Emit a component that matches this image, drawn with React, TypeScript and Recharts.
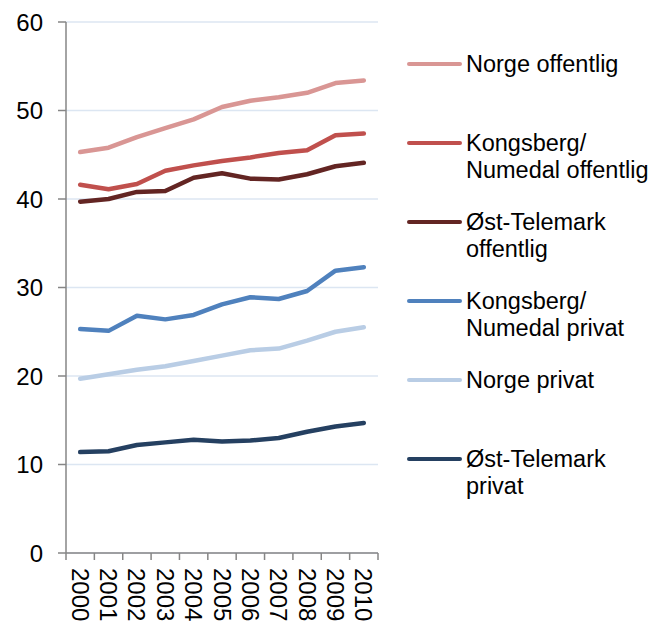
import { LineChart, Line, XAxis, YAxis, CartesianGrid } from 'recharts';

const years: string[] = ['2000', '2001', '2002', '2003', '2004', '2005', '2006', '2007', '2008', '2009', '2010'];

const norgeOffentlig: number[] = [45.3, 45.8, 47.0, 48.0, 49.0, 50.4, 51.1, 51.5, 52.0, 53.1, 53.4];
const kongsbergOffentlig: number[] = [41.6, 41.1, 41.7, 43.2, 43.8, 44.3, 44.7, 45.2, 45.5, 47.2, 47.4];
const ostTelemarkOffentlig: number[] = [39.7, 40.0, 40.8, 40.9, 42.4, 42.9, 42.3, 42.2, 42.8, 43.7, 44.1];
const kongsbergPrivat: number[] = [25.3, 25.1, 26.8, 26.4, 26.9, 28.1, 28.9, 28.7, 29.6, 31.9, 32.3];
const norgePrivat: number[] = [19.7, 20.2, 20.7, 21.1, 21.7, 22.3, 22.9, 23.1, 24.0, 25.0, 25.5];
const ostTelemarkPrivat: number[] = [11.4, 11.5, 12.2, 12.5, 12.8, 12.6, 12.7, 13.0, 13.7, 14.3, 14.7];

const yTicks: number[] = [0, 10, 20, 30, 40, 50, 60];

const series = [
  { key: 'norgeOff', name: ['Norge offentlig'], color: '#D99694', values: norgeOffentlig },
  { key: 'kongOff', name: ['Kongsberg/', 'Numedal offentlig'], color: '#C0504D', values: kongsbergOffentlig },
  { key: 'ostOff', name: ['Øst-Telemark', 'offentlig'], color: '#632523', values: ostTelemarkOffentlig },
  { key: 'kongPriv', name: ['Kongsberg/', 'Numedal privat'], color: '#4F81BD', values: kongsbergPrivat },
  { key: 'norgePriv', name: ['Norge privat'], color: '#B9CDE5', values: norgePrivat },
  { key: 'ostPriv', name: ['Øst-Telemark', 'privat'], color: '#254061', values: ostTelemarkPrivat },
];

const data = years.map((year, i) => {
  const row: Record<string, number | string> = { idx: i, year };
  series.forEach((s) => {
    row[s.key] = s.values[i];
  });
  return row;
});

// ticks at the category borders (half values) and labels at the centres
const xTicks: number[] = [];
for (let i = 0; i <= years.length; i++) {
  xTicks.push(i - 0.5);
  if (i < years.length) xTicks.push(i);
}

const FONT = '"Liberation Sans", Arial, sans-serif';
const AXIS = '#868686';

const XTick = (props: any) => {
  const { x, y, payload } = props;
  const v = payload.value as number;
  if (Number.isInteger(v)) {
    return (
      <g transform={`translate(${x},${y + 15}) rotate(90)`}>
        <text x={0} y={8.5} textAnchor="start" fontSize={24} fontFamily={FONT} fill="#000">
          {years[v]}
        </text>
      </g>
    );
  }
  return <line x1={x} y1={y} x2={x} y2={y + 7} stroke={AXIS} strokeWidth={1.5} />;
};

const App = () => {
  return (
    <div style={{ position: 'absolute', left: 0, top: 0, width: 653, height: 621, background: '#fff' }}>
      <LineChart width={653} height={621} data={data} margin={{ top: 22, right: 275, bottom: 0, left: 0 }}>
        <CartesianGrid vertical={false} stroke="#DCE6F2" strokeWidth={1.5} />
        <XAxis
          dataKey="idx"
          type="number"
          domain={[-0.5, 10.5]}
          ticks={xTicks}
          interval={0}
          tickLine={false}
          tickSize={0}
          tickMargin={0}
          tick={<XTick />}
          height={68}
          stroke={AXIS}
          strokeWidth={1.5}
        />
        <YAxis
          domain={[0, 60]}
          ticks={yTicks}
          interval={0}
          width={66}
          tickSize={8}
          tickMargin={15}
          stroke={AXIS}
          strokeWidth={1.5}
          tick={{ fill: '#000', fontSize: 24, fontFamily: FONT }}
        />
        {series.map((s) => (
          <Line
            key={s.key}
            dataKey={s.key}
            stroke={s.color}
            strokeWidth={4.5}
            strokeLinecap="round"
            strokeLinejoin="round"
            dot={false}
            activeDot={false}
            isAnimationActive={false}
          />
        ))}
      </LineChart>
      <div style={{ position: 'absolute', left: 407, top: 50.5, fontFamily: FONT, color: '#000' }}>
        {series.map((s) => (
          <div key={s.key} style={{ height: 79, display: 'flex', alignItems: 'flex-start' }}>
            <div
              style={{ width: 55, height: 4.5, marginTop: 11.25, background: s.color, borderRadius: 3, flex: 'none' }}
            />
            <div style={{ marginLeft: 4, fontSize: 23.5, lineHeight: '27px', whiteSpace: 'nowrap' }}>
              {s.name.map((n, i) => (
                <div key={i}>{n}</div>
              ))}
            </div>
          </div>
        ))}
      </div>
    </div>
  );
};

export default App;
